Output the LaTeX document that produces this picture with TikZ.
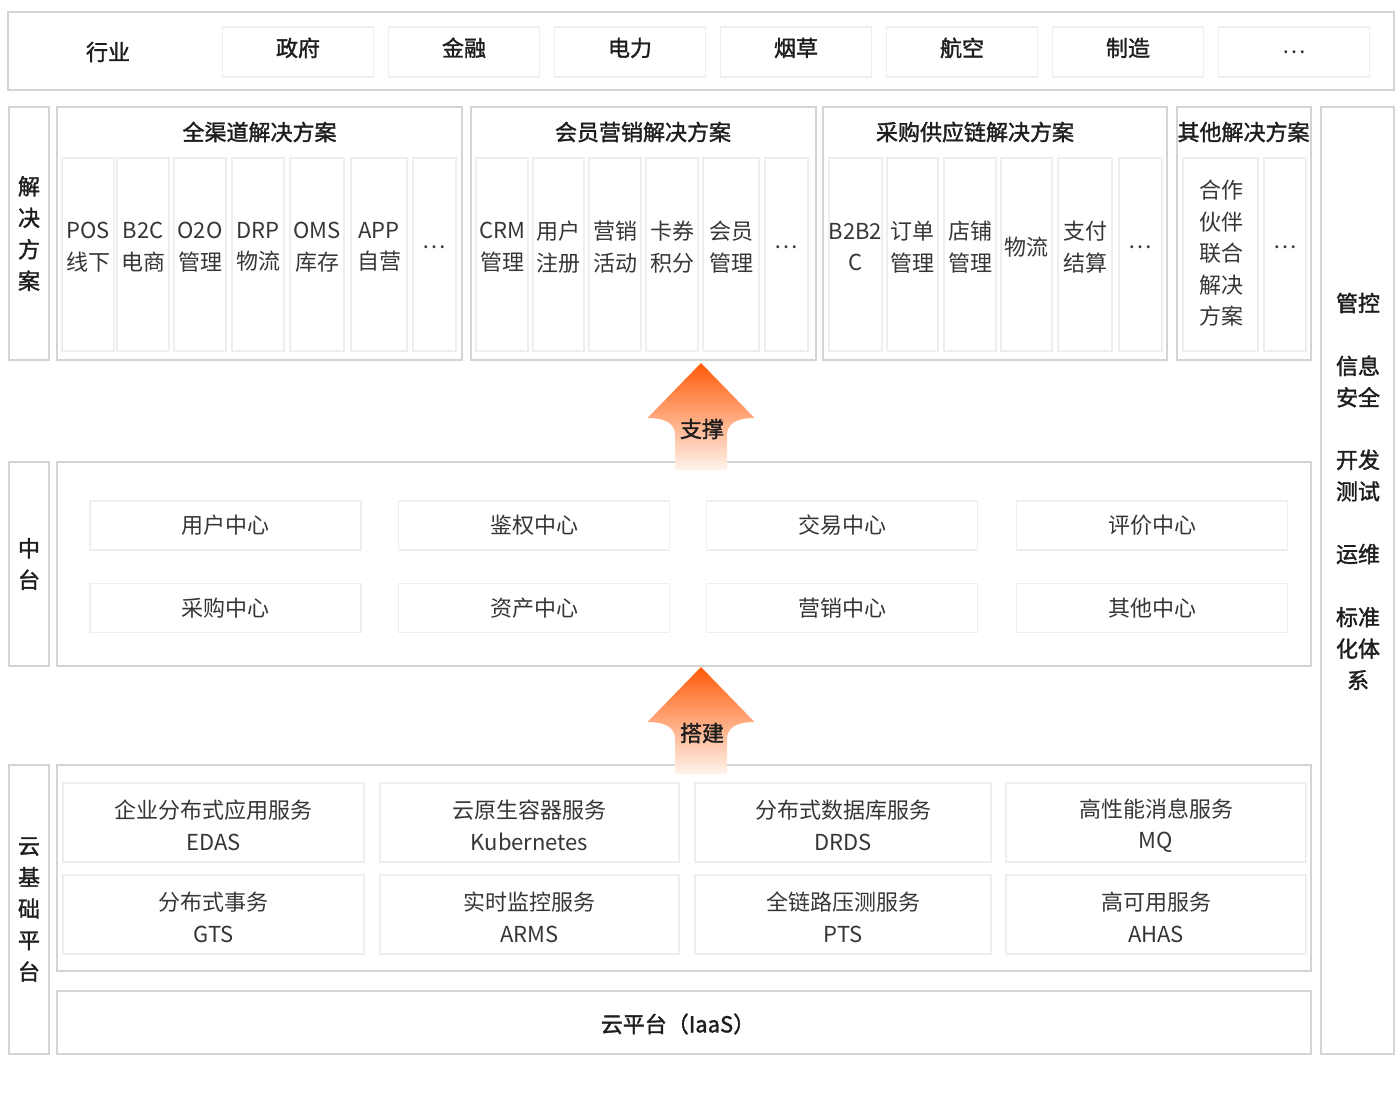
\documentclass[tikz,border=0pt]{standalone}
\usepackage{fontspec}
\setmainfont{Noto Sans CJK SC}[BoldFont={Noto Sans CJK SC}, BoldFeatures={FakeBold=1.6}]
\usetikzlibrary{positioning}
\definecolor{linegray}{HTML}{D4D4D4}
\definecolor{cardline}{HTML}{EEEEEE}
\definecolor{textdark}{HTML}{1E1E1E}
\definecolor{textgray}{HTML}{363636}
\definecolor{arrowtop}{HTML}{FF5A0A}
\definecolor{arrowfoot}{HTML}{FFF4EC}
\newcommand{\bigfont}{\fontsize{22}{31.5}\selectfont}

\begin{document}
\begin{tikzpicture}[x=1pt, y=-1pt,
    frame/.style={rectangle, draw=linegray, line width=1.3pt, fill=white, inner sep=0pt},
    card/.style={rectangle, draw=cardline, line width=1.6pt, fill=white, inner sep=0pt},
    colcard/.style={card, minimum height=193pt},
    head/.style={font=\bigfont\bfseries, text=textdark, align=center},
    item/.style={font=\bigfont, text=textgray, align=center, inner sep=0pt},
    liftarrow/.pic={
        \shade[top color=arrowtop, bottom color=arrowfoot]
            (0,0) -- (53.5,55) .. controls (33.5,55) and (26,62) .. (26,72)
            -- (26,107) -- (-26,107) -- (-26,72)
            .. controls (-26,62) and (-33.5,55) .. (-53.5,55) -- cycle;
    }
]
\fill[white] (0,0) rectangle (1400,1094);
\useasboundingbox (0,0) rectangle (1400,1094);

% Industry row
\node[frame, minimum width=1386pt, minimum height=78pt] (industry) at (701,51) {};
\node[head] (industry-label) at (108,52) {行业};
\foreach \name [count=\i from 0] in {政府,金融,电力,烟草,航空,制造}
    \node[card, head, text depth=10pt, minimum width=151pt, minimum height=50pt] (ind-\i) at (298+166*\i,52) {\name};
\node[card, item, minimum width=151pt, minimum height=50pt] (ind-6) at (1294,52) {\dots};

% Solutions
\node[frame, head, minimum width=40pt, minimum height=253pt] (sol-side) at (29,233.5) {解\\决\\方\\案};
\node[frame, minimum width=405pt, minimum height=253pt] (omni) at (259.5,233.5) {};
\node[frame, minimum width=345pt, minimum height=253pt] (member) at (643.5,233.5) {};
\node[frame, minimum width=344pt, minimum height=253pt] (supply) at (995,233.5) {};
\node[frame, minimum width=134pt, minimum height=253pt] (other) at (1244,233.5) {};
\node[head] (omni-title) at (259.5,132) {全渠道解决方案};
\node[head] (member-title) at (643,132) {会员营销解决方案};
\node[head] (supply-title) at (975,132) {采购供应链解决方案};
\node[head, inner sep=0pt] (other-title) at (1243.5,132) {其他解决方案};

\foreach \cx/\w/\txt [count=\i] in {88/52/{POS\\线下}, 143/52/{B2C\\电商}, 200/52/{O2O\\管理},
        258/52/{DRP\\物流}, 317/54/{OMS\\库存}, 379/56/{APP\\自营}, 434.5/43/\dots} {
    \node[colcard, minimum width=\w pt] (omni-\i) at (\cx,254.5) {};
    \node[item] (omni-\i-txt) at (\cx,247) {\txt};
}
\foreach \cx/\w/\txt [count=\i] in {502/52/{CRM\\管理}, 558.5/51/{用户\\注册}, 615/52/{营销\\活动},
        672/52/{卡券\\积分}, 731/56/{会员\\管理}, 786.5/43/\dots} {
    \node[colcard, minimum width=\w pt] (member-\i) at (\cx,254.5) {};
    \node[item] (member-\i-txt) at (\cx,247) {\txt};
}
\foreach \cx/\w/\txt [count=\i] in {855.5/53/{B2B2\\C}, 912.5/51/{订单\\管理}, 970/52/{店铺\\管理},
        1026.5/51/物流, 1085/54/{支付\\结算}, 1140.5/43/\dots} {
    \node[colcard, minimum width=\w pt] (supply-\i) at (\cx,254.5) {};
    \node[item] (supply-\i-txt) at (\cx,247) {\txt};
}
\node[colcard, minimum width=75pt] (other-1) at (1220.5,254.5) {};
\node[item] (other-1-txt) at (1221,253.5) {合作\\伙伴\\联合\\解决\\方案};
\node[colcard, minimum width=42pt] (other-2) at (1285,254.5) {};
\node[item] (other-2-txt) at (1285,247) {\dots};

% Governance column
\node[frame, minimum width=73pt, minimum height=947pt] (govern) at (1357.5,580.5) {};
\node[head] (govern-1) at (1358,303) {管控};
\node[head] (govern-2) at (1358,381.5) {信息\\安全};
\node[head] (govern-3) at (1358,475.5) {开发\\测试};
\node[head] (govern-4) at (1358,554) {运维};
\node[head] (govern-5) at (1358,648.5) {标准\\化体\\系};

% Middle platform
\node[frame, head, minimum width=40pt, minimum height=204pt] (hub-side) at (29,564) {中\\台};
\node[frame, minimum width=1254pt, minimum height=204pt] (hub) at (684,564) {};
\foreach \name/\cx/\cy [count=\i] in {用户中心/225.5/525.5, 鉴权中心/534/525.5, 交易中心/842/525.5,
        评价中心/1152/525.5, 采购中心/225.5/608, 资产中心/534/608, 营销中心/842/608, 其他中心/1152/608}
    \node[card, item, minimum width=271pt, minimum height=49pt] (hub-\i) at (\cx,\cy) {\name};

% Cloud base
\node[frame, head, minimum width=40pt, minimum height=289pt] (base-side) at (29,909.5) {云\\基\\础\\平\\台};
\node[frame, minimum width=1254pt, minimum height=206pt] (base) at (684,868) {};
\foreach \name/\code/\cx/\w/\cy [count=\i] in {企业分布式应用服务/EDAS/213.5/301/822.5,
        云原生容器服务/Kubernetes/529.5/299/822.5, 分布式数据库服务/DRDS/843/296/822.5,
        高性能消息服务/MQ/1156/300/822.5, 分布式事务/GTS/213.5/301/914.5,
        实时监控服务/ARMS/529.5/299/914.5, 全链路压测服务/PTS/843/296/914.5,
        高可用服务/AHAS/1156/300/914.5}
    \node[card, item, minimum width=\w pt, minimum height=79pt] (svc-\i) at (\cx,\cy) {};
\foreach \name/\code/\cx/\cy [count=\i] in {企业分布式应用服务/EDAS/213.5/825.5,
        云原生容器服务/Kubernetes/529.5/825.5, 分布式数据库服务/DRDS/843/825.5,
        高性能消息服务/MQ/1156/825.5, 分布式事务/GTS/213.5/917.5,
        实时监控服务/ARMS/529.5/917.5, 全链路压测服务/PTS/843/917.5,
        高可用服务/AHAS/1156/917.5}
    \node[item] (svc-\i-txt) at (\cx,\cy) {\name\\\code};
\node[frame, minimum width=1254pt, minimum height=63pt] (iaas) at (684,1022.5) {};
\node[head] (iaas-txt) at (678,1024) {云平台（IaaS）};

% Arrows between layers
\pic at (701,363) {liftarrow};
\node[head] (support) at (702,429) {支撑};
\pic at (701,667) {liftarrow};
\node[head] (build) at (702,733) {搭建};

\end{tikzpicture}
\end{document}
